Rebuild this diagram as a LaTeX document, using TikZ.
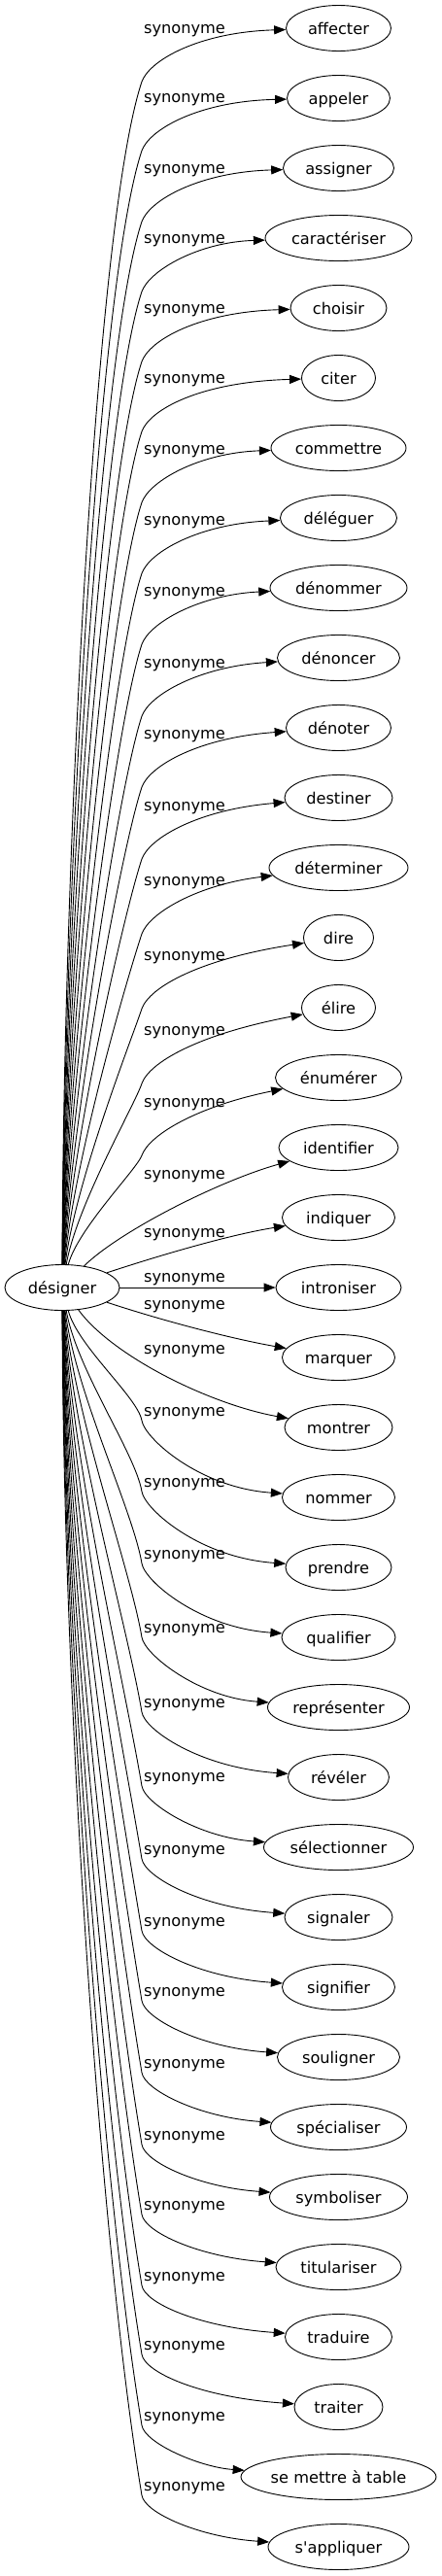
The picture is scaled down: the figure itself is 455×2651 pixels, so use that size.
\documentclass[tikz,border=0pt]{standalone}
\usepackage{fontspec}
\setmainfont{DejaVu Sans}
\usetikzlibrary{shapes.geometric,arrows.meta}
\begin{document}
\begin{tikzpicture}[x=1pt,y=-1pt,
  word/.style={ellipse,draw,line width=0.9pt,inner sep=0pt,minimum height=47pt,
    font=\fontsize{16.2}{19}\selectfont,text height=12.3pt,text depth=0pt},
  rel/.style={font=\fontsize{16.2}{19}\selectfont,anchor=base,inner sep=0pt},
  syn/.style={draw,line width=0.9pt,-{Triangle[length=12pt,width=9pt]}}]
\useasboundingbox (0,0) rectangle (455,2651);
\node[word,minimum width=118pt] (src) at (64,1325) {désigner};
% upper, generic
\foreach \k/\n/\t/\w/\L in {0/n0/affecter/108/29,1/n1/appeler/106/100,2/n2/assigner/114/173,
  3/n3/caractériser/151/245,4/n4/choisir/99/317,5/n5/citer/76/389,6/n6/commettre/139/462,
  7/n7/déléguer/120/535,8/n8/dénommer/141/608,9/n9/dénoncer/126/682,10/n10/dénoter/108/755,
  11/n11/destiner/111/829,12/n12/déterminer/143/906,13/n13/dire/72/983,14/n14/élire/76/1060,
  15/n15/énumérer/130/1134}{
  \pgfmathsetmacro\ty{29+72*\k}
  \pgfmathsetmacro\By{\L+55}
  \pgfmathsetmacro\D{1302-\By}
  \pgfmathsetmacro\ax{65+\k}
  \pgfmathsetmacro\ay{1302-0.33*\D}
  \pgfmathsetmacro\bx{146-0.04*\D}
  \pgfmathsetmacro\by{\By+0.12*\D}
  \pgfmathsetmacro\cy{\By-22}
  \pgfmathsetmacro\dy{\L+4}
  \pgfmathsetmacro\ly{\L+5}
  \node[word,minimum width=\w pt] (\n) at (348.5,\ty) {\t};
  \coordinate (b\k) at (146,\By);
  \draw[syn] (src) .. controls (\ax,\ay) and (\bx,\by) .. (b\k) .. controls (154,\cy) and (205,\dy) .. (\n);
  \node[rel] at (190,\ly) {synonyme};
}
% middle, individual
\node[word,minimum width=123pt] (n16) at (348.5,1181) {identifier};
\node[word,minimum width=116pt] (n17) at (348.5,1253) {indiquer};
\node[word,minimum width=129pt] (n18) at (348.5,1325) {introniser};
\node[word,minimum width=116pt] (n19) at (348.5,1397) {marquer};
\node[word,minimum width=111pt] (n20) at (348.5,1469) {montrer};
\draw[syn] (src) .. controls (123,1267) and (226,1215) .. (n16);
\draw[syn] (src) .. controls (170,1290) and (240,1270) .. (n17);
\draw[syn] (src) -- (n18);
\draw[syn] (src) .. controls (170,1360) and (240,1378) .. (n19);
\draw[syn] (src) .. controls (115,1395) and (215,1445) .. (n20);
\node[rel] at (190,1213) {synonyme};
\node[rel] at (190,1273) {synonyme};
\node[rel] at (190,1319) {synonyme};
\node[rel] at (190,1347) {synonyme};
\node[rel] at (190,1393) {synonyme};
% lower, generic
\foreach \k/\n/\t/\w/\L in {21/n21/nommer/116/1452,22/n22/prendre/109/1525,23/n23/qualifier/117/1599,
  24/n24/représenter/146/1675,25/n25/révéler/104/1752,26/n26/sélectionner/154/1828,
  27/n27/signaler/111/1903,28/n28/signifier/116/1977,29/n29/souligner/126/2049,
  30/n30/spécialiser/140/2123,31/n31/symboliser/142/2197,32/n32/titulariser/129/2269,
  33/n33/traduire/110/2342,34/n34/traiter/91/2413,35/n35/se mettre à table/201/2486,
  36/n36/s\textquotesingle appliquer/145/2558}{
  \pgfmathsetmacro\ty{29+72*\k}
  \pgfmathsetmacro\By{\L+10}
  \pgfmathsetmacro\D{\By-1348}
  \pgfmathsetmacro\ax{65+36-\k}
  \pgfmathsetmacro\ay{1348+0.33*\D}
  \pgfmathsetmacro\bx{146-0.035*\D}
  \pgfmathsetmacro\by{\By-0.21*\D}
  \pgfmathsetmacro\cy{\By+18}
  \pgfmathsetmacro\dy{\ty-10}
  \pgfmathsetmacro\ly{\L+5}
  \node[word,minimum width=\w pt] (\n) at (348.5,\ty) {\t};
  \coordinate (b\k) at (146,\By);
  \draw[syn] (src) .. controls (\ax,\ay) and (\bx,\by) .. (b\k) .. controls (149,\cy) and (205,\dy) .. (\n);
  \node[rel] at (190,\ly) {synonyme};
}
\end{tikzpicture}
\end{document}
